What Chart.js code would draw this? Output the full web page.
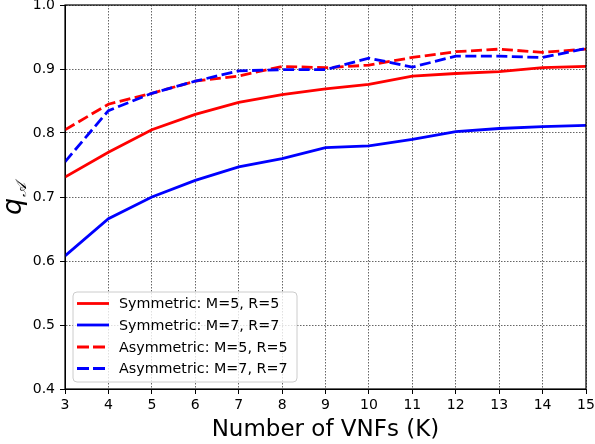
<!DOCTYPE html>
<html>
<head>
<meta charset="utf-8">
<script src="https://cdn.jsdelivr.net/npm/chart.js@4.4.0/dist/chart.umd.min.js"></script>
<style>
html,body{margin:0;padding:0;background:#fff;}
#wrap{width:595px;height:444px;position:relative;}
</style>
</head>
<body>
<div id="wrap"><canvas id="c" width="595" height="444"></canvas></div>
<script>
const kValues = [3,4,5,6,7,8,9,10,11,12,13,14,15];
const symM5R5 = [0.731,0.770,0.805,0.829,0.848,0.860,0.869,0.876,0.889,0.893,0.896,0.902,0.904];
const symM7R7 = [0.608,0.666,0.700,0.726,0.747,0.760,0.777,0.780,0.790,0.802,0.807,0.810,0.812];
const asymM5R5 = [0.805,0.845,0.862,0.881,0.889,0.904,0.902,0.906,0.918,0.927,0.931,0.926,0.931];
const asymM7R7 = [0.755,0.835,0.862,0.881,0.897,0.899,0.899,0.917,0.903,0.920,0.920,0.918,0.932];
const seriesLabels = ["Symmetric: M=5, R=5","Symmetric: M=7, R=7","Asymmetric: M=5, R=5","Asymmetric: M=7, R=7"];
const xTitle = "Number of VNFs (K)";

const RED = "#ff0000", BLUE = "#0000ff";
const FONT = "'DejaVu Sans', sans-serif";
const DASH = [11,4.5];

function ds(label, values, color, dashed, order){
  return {
    label: label,
    data: kValues.map((k,i)=>({x:k,y:values[i]})),
    borderColor: color,
    backgroundColor: color,
    borderWidth: 2.8,
    borderDash: dashed ? DASH : [],
    pointRadius: 0,
    tension: 0,
    fill: false,
    order: order
  };
}

const extras = {
  id: 'extras',
  afterDraw(chart){
    const ctx = chart.ctx;
    const a = chart.chartArea;
    ctx.save();
    // border
    ctx.strokeStyle = '#000';
    ctx.lineWidth = 1.2;
    ctx.setLineDash([]);
    ctx.strokeRect(a.left, a.top, a.right - a.left, a.bottom - a.top);
    // y title
    ctx.save();
    ctx.translate(21, 205);
    ctx.rotate(-Math.PI/2);
    ctx.fillStyle = '#000';
    ctx.textBaseline = 'alphabetic';
    ctx.textAlign = 'left';
    ctx.font = "italic 27px " + FONT;
    ctx.fillText('q', -10, 0);
    const qw = ctx.measureText('q').width;
    ctx.font = "italic 15px " + FONT;
    ctx.fillText('\u{1D49C}', -10 + qw + 0.5, 5);
    ctx.restore();
    // legend
    const lx = 73, ly = 292, lw = 224, lh = 90, r = 4;
    ctx.beginPath();
    ctx.moveTo(lx + r, ly);
    ctx.lineTo(lx + lw - r, ly);
    ctx.quadraticCurveTo(lx + lw, ly, lx + lw, ly + r);
    ctx.lineTo(lx + lw, ly + lh - r);
    ctx.quadraticCurveTo(lx + lw, ly + lh, lx + lw - r, ly + lh);
    ctx.lineTo(lx + r, ly + lh);
    ctx.quadraticCurveTo(lx, ly + lh, lx, ly + lh - r);
    ctx.lineTo(lx, ly + r);
    ctx.quadraticCurveTo(lx, ly, lx + r, ly);
    ctx.closePath();
    ctx.fillStyle = 'rgba(255,255,255,0.8)';
    ctx.fill();
    ctx.strokeStyle = '#cccccc';
    ctx.lineWidth = 1;
    ctx.stroke();
    const rows = [303.5, 325, 347, 368.5];
    const dsets = chart.data.datasets;
    ctx.font = "14.3px " + FONT;
    ctx.textBaseline = 'middle';
    ctx.textAlign = 'left';
    for (let i = 0; i < dsets.length; i++){
      const d = dsets[i];
      ctx.beginPath();
      ctx.setLineDash(d.borderDash.length ? [12,4] : []);
      ctx.strokeStyle = d.borderColor;
      ctx.lineWidth = 2.8;
      ctx.moveTo(77, rows[i]);
      ctx.lineTo(109, rows[i]);
      ctx.stroke();
      ctx.setLineDash([]);
      ctx.fillStyle = '#000';
      ctx.fillText(d.label, 119, rows[i] + 1);
    }
    ctx.restore();
  }
};

new Chart(document.getElementById('c'), {
  type: 'line',
  data: {
    datasets: [
      ds(seriesLabels[0], symM5R5, RED, false, 3),
      ds(seriesLabels[1], symM7R7, BLUE, false, 2),
      ds(seriesLabels[2], asymM5R5, RED, true, 1),
      ds(seriesLabels[3], asymM7R7, BLUE, true, 0)
    ]
  },
  options: {
    responsive: false,
    animation: false,
    devicePixelRatio: 1,
    layout: { padding: { top: 5, right: 9, left: 0, bottom: 0 } },
    plugins: { legend: { display: false }, tooltip: { enabled: false } },
    scales: {
      x: {
        type: 'linear',
        min: 3, max: 15,
        ticks: { stepSize: 1, color: '#000', font: { family: FONT, size: 14 }, padding: 3, maxRotation: 0 },
        grid: { color: '#666', lineWidth: 1, tickLength: 5, tickColor: '#000', tickBorderDash: [] },
        border: { display: true, color: '#000', dash: [1.5,1.5] },
        title: { display: true, text: xTitle, color: '#000', font: { family: FONT, size: 23 }, padding: { top: 2, bottom: 0 } },
        afterFit(scale){ scale.height = 55; scale.paddingLeft = 0; scale.paddingRight = 0; }
      },
      y: {
        min: 0.4, max: 1.0,
        ticks: { stepSize: 0.1, color: '#000', font: { family: FONT, size: 14 }, padding: 5,
          callback: v => Number(v).toFixed(1) },
        grid: { color: '#666', lineWidth: 1, tickLength: 5, tickColor: '#000', tickBorderDash: [] },
        border: { display: true, color: '#000', dash: [1.5,1.5] },
        afterFit(scale){ scale.width = 65; scale.paddingTop = 0; scale.paddingBottom = 0; }
      }
    }
  },
  plugins: [extras]
});
</script>
</body>
</html>
